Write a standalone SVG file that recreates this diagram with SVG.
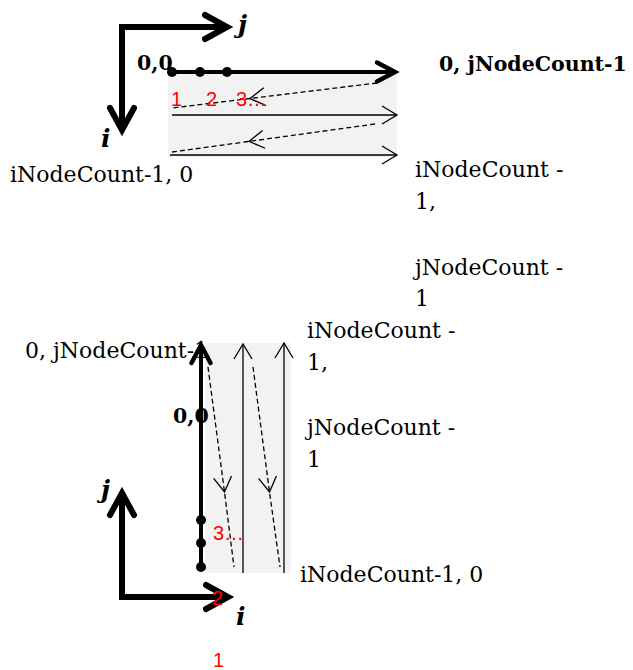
<svg xmlns="http://www.w3.org/2000/svg" width="633" height="670" viewBox="0 0 633 670">
<style>
.bg{fill:#f2f2f2;stroke:none}
.lbl{font-family:"DejaVu Serif","Liberation Serif",serif;font-size:22px;fill:#000}
.bold{font-weight:bold;font-size:20.5px}
.ax{font-family:"DejaVu Serif","Liberation Serif",serif;font-weight:bold;font-style:italic;font-size:25px;fill:#000}
.red{font-family:"Liberation Sans",Arial,sans-serif;font-size:20px;fill:#ff0000}
.axis{fill:none;stroke:#000;stroke-width:6;stroke-linejoin:miter;marker-start:url(#axArr);marker-end:url(#axArr)}
.thick{fill:none;stroke:#000;stroke-width:4;marker-end:url(#thickArr)}
.thin{fill:none;stroke:#000;stroke-width:1.3;marker-end:url(#thinArr)}
.dash{fill:none;stroke:#000;stroke-width:1.3;stroke-dasharray:5 3;marker-mid:url(#thinArr)}
.dot{fill:#000}
</style>
<defs>
<marker id="axArr" markerUnits="userSpaceOnUse" orient="auto-start-reverse" markerWidth="1" markerHeight="1" refX="0" refY="0" overflow="visible">
<path d="M-22,-12 L0,0 L-22,12" fill="none" stroke="#000" stroke-width="6" stroke-linecap="round" stroke-linejoin="miter"/>
</marker>
<marker id="thickArr" markerUnits="userSpaceOnUse" orient="auto" markerWidth="1" markerHeight="1" refX="0" refY="0" overflow="visible">
<path d="M-18,-9.5 L0,0 L-18,9.5" fill="none" stroke="#000" stroke-width="4.5" stroke-linecap="round"/>
</marker>
<marker id="thinArr" markerUnits="userSpaceOnUse" orient="auto" markerWidth="1" markerHeight="1" refX="0" refY="0" overflow="visible">
<path d="M-15,-9 L0,0 L-15,9" fill="none" stroke="#000" stroke-width="1.3"/>
</marker>
</defs>

<g id="top-grid">
<rect class="bg" x="168" y="73" width="229" height="84"/>
</g>
<g id="bottom-grid">
<rect class="bg" x="205" y="343" width="86" height="230"/>
</g>

<g id="top-labels">
<text class="lbl bold" x="137" y="70">0,0</text>
<text class="lbl bold" x="439" y="71">0, jNodeCount-1</text>
<text class="lbl" x="10" y="182">iNodeCount-1, 0</text>
<text class="lbl" x="415" y="177">iNodeCount -</text>
<text class="lbl" x="415" y="209">1,</text>
<text class="lbl" x="415" y="275">jNodeCount -</text>
<text class="lbl" x="415" y="306">1</text>
<text class="ax" x="238" y="33">j</text>
<text class="ax" x="101" y="147">i</text>
</g>

<g id="bottom-labels">
<text class="lbl" x="25" y="358">0, jNodeCount-1</text>
<text class="lbl bold" x="173" y="423">0,0</text>
<text class="lbl" x="300" y="582">iNodeCount-1, 0</text>
<text class="lbl" x="307" y="338">iNodeCount -</text>
<text class="lbl" x="307" y="370">1,</text>
<text class="lbl" x="307" y="435">jNodeCount -</text>
<text class="lbl" x="307" y="467">1</text>
<text class="ax" x="101" y="498">j</text>
<text class="ax" x="236" y="625">i</text>
</g>

<g id="connectors">
<path class="axis" d="M122,130 L122,27 L227,27"/>
<path class="thick" d="M172,72 L395,72"/>
<path class="dash" d="M377,83 L250,98.5 L172,108"/>
<path class="thin" d="M172,115 L397,115"/>
<path class="dash" d="M375,124 L249,141.4 L172,152"/>
<path class="thin" d="M170,155 L397,155"/>
<path class="axis" d="M122,493 L122,597 L228,597"/>
<path class="thick" d="M201,570 L201,345"/>
<path class="dash" d="M208,367 L224.5,492 L234,567"/>
<path class="thin" d="M243,573 L243,344"/>
<path class="dash" d="M253,367 L269.5,492 L280,567"/>
<path class="thin" d="M284,573 L284,343"/>
</g>

<g id="top-nodes">
<circle class="dot" cx="172" cy="72" r="5"/>
<circle class="dot" cx="200" cy="72" r="5"/>
<circle class="dot" cx="227" cy="72" r="5"/>
</g>
<g id="bottom-nodes">
<circle class="dot" cx="201" cy="520" r="5"/>
<circle class="dot" cx="201" cy="543" r="5"/>
<circle class="dot" cx="201" cy="567" r="5"/>
</g>

<g id="order-labels">
<text class="red" x="171" y="106">1</text>
<text class="red" x="206" y="106">2</text>
<text class="red" x="236" y="106">3…</text>
<text class="red" x="213" y="540">3…</text>
<text class="red" x="212" y="605">2</text>
<text class="red" x="213" y="667">1</text>
</g>
</svg>
